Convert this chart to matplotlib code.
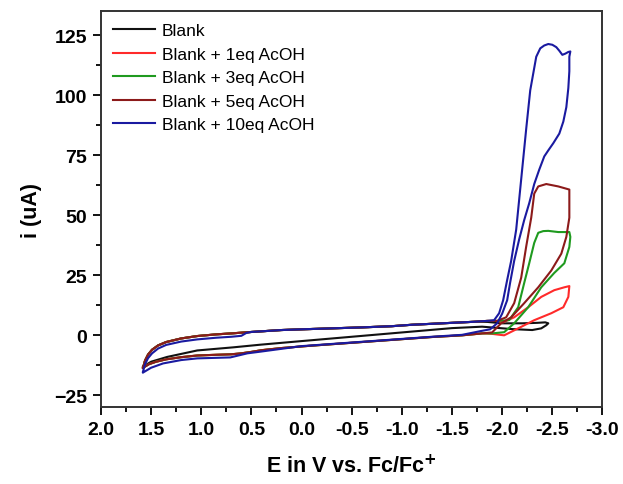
import matplotlib.pyplot as plt
from matplotlib.ticker import MultipleLocator

plt.rcParams['font.family'] = ['Liberation Sans', 'DejaVu Sans']

# shared low-current parts of the scans (E in V, i in uA)
fwd_base_v = [1.58, 1.56, 1.53, 1.49, 1.43, 1.35, 1.2, 1.04, 0.85, 0.7, 0.5, 0.2, 0.0,
              -0.3, -0.6, -0.9, -1.1, -1.3, -1.5, -1.7, -1.85]
fwd_base_i = [-13.5, -10.5, -8.0, -6.0, -4.2, -2.8, -1.3, -0.3, 0.4, 0.8, 1.4, 2.2, 2.5,
              2.9, 3.3, 3.8, 4.4, 4.8, 5.2, 5.6, 6.0]
rev_base_v = [-1.8, -1.6, -1.3, -1.0, -0.7, -0.4, -0.1, 0.2, 0.4, 0.5, 0.6, 0.7, 0.85,
              1.04, 1.2, 1.35, 1.45, 1.52, 1.56, 1.58]
rev_base_i = [0.8, 0.0, -0.7, -1.6, -2.5, -3.4, -4.3, -5.3, -6.2, -6.9, -7.5, -7.9, -8.1,
              -8.4, -9.1, -10.0, -11.0, -12.0, -13.0, -13.5]

# blue baseline sits a little lower
blue_fwd_v = [1.58, 1.56, 1.53, 1.49, 1.43, 1.35, 1.2, 1.04, 0.85, 0.7, 0.6, 0.55, 0.5, 0.2, 0.0,
              -0.3, -0.6, -0.9, -1.1, -1.3, -1.5, -1.7, -1.85]
blue_fwd_i = [-15.0, -12.0, -9.5, -7.5, -5.5, -4.0, -2.6, -1.7, -1.0, -0.6, -0.2, 1.0, 1.4, 2.2, 2.5,
              2.9, 3.3, 3.8, 4.4, 4.8, 5.2, 5.6, 6.0]
blue_rev_v = [-1.79, -1.6, -1.3, -1.0, -0.5, 0.0, 0.41, 0.54, 0.71, 1.04, 1.2, 1.38, 1.5, 1.58]
blue_rev_i = [1.8, 0.2, -0.6, -1.5, -3.0, -4.5, -6.8, -7.5, -9.2, -9.6, -10.3, -11.7, -13.5, -15.5]

# black: narrow loop, forward under the coloured ones
blank_v = fwd_base_v + [-2.0, -2.2, -2.35, -2.43, -2.46, -2.44, -2.39, -2.3, -2.1, -1.8,
                        -1.5, -1.0, -0.5, 0.0, 0.41, 0.68, 1.04, 1.34, 1.5, 1.58]
blank_i = fwd_base_i[:-1] + [5.6, 5.0, 5.0, 5.2, 5.4, 5.0, 4.2, 2.9, 2.2, 2.6, 3.6,
                             3.0, 1.2, -0.6, -2.4, -3.9, -5.0, -6.3, -9.0, -11.0, -13.0]

# catalytic waves: forward up, reverse down
red_cat_v = [-1.95, -2.01, -2.12, -2.26, -2.39, -2.52, -2.62, -2.67, -2.66, -2.61, -2.49,
             -2.32, -2.16, -2.02, -1.9]
red_cat_i = [6.0, 5.4, 7.5, 11.7, 16.0, 18.8, 20.0, 20.5, 16.0, 11.7, 9.2, 6.3, 2.9, 0.0, 0.6]

green_cat_v = [-1.95, -2.07, -2.16, -2.22, -2.27, -2.32, -2.36, -2.41, -2.46, -2.56, -2.67, -2.68,
               -2.67, -2.62, -2.52, -2.39, -2.26, -2.12, -2.02, -1.9]
green_cat_i = [6.0, 6.3, 11.7, 21.8, 30.0, 38.5, 42.7, 43.4, 43.5, 43.0, 43.0, 41.0,
               36.8, 30.0, 26.0, 20.0, 11.7, 5.0, 1.3, 0.8]

maroon_cat_v = [-1.95, -2.04, -2.12, -2.19, -2.24, -2.29, -2.32, -2.36, -2.44, -2.56, -2.67,
                -2.67, -2.67, -2.64, -2.59, -2.49, -2.36, -2.22, -2.09, -1.99, -1.9]
maroon_cat_i = [6.0, 7.5, 13.4, 24.0, 37.0, 49.0, 59.0, 62.0, 63.0, 62.0, 60.7,
                58.0, 49.0, 41.0, 34.0, 27.0, 20.0, 13.4, 7.5, 5.0, 1.2]

blue_cat_v = [-1.92, -1.97, -2.01, -2.05, -2.09, -2.14, -2.19, -2.24, -2.28, -2.31, -2.34, -2.38,
              -2.42, -2.46, -2.5, -2.54, -2.57, -2.6, -2.63, -2.66, -2.68,
              -2.67, -2.67, -2.66, -2.64, -2.61, -2.57, -2.51, -2.46, -2.42, -2.37, -2.32,
              -2.27, -2.22, -2.17, -2.12, -2.08, -2.05, -2.0, -1.95, -1.88]
blue_cat_i = [6.3, 9.2, 14.6, 23.0, 31.0, 44.0, 65.0, 86.0, 102.0, 109.0, 116.0, 119.5,
              120.7, 121.3, 121.0, 120.0, 118.5, 116.8, 117.3, 118.0, 118.2,
              116.0, 110.0, 103.0, 95.0, 89.0, 84.0, 80.0, 77.0, 74.5, 69.0, 63.0,
              55.0, 48.0, 40.0, 31.0, 22.0, 14.6, 9.0, 5.0, 2.5]

labels = ['Blank', 'Blank + 1eq AcOH', 'Blank + 3eq AcOH', 'Blank + 5eq AcOH', 'Blank + 10eq AcOH']
colors = ['#111111', '#ff2a2a', '#1f9a1f', '#8c1a1a', '#1a1aa0']

fig = plt.figure(figsize=(6.23, 4.85), dpi=100)
ax = fig.add_axes([0.162, 0.158, 0.805, 0.817])

lw = 1.5
ax.plot(blank_v, blank_i, color=colors[0], lw=lw, label=labels[0])
ax.plot(fwd_base_v + red_cat_v + rev_base_v, fwd_base_i + red_cat_i + rev_base_i,
        color=colors[1], lw=lw, label=labels[1])
ax.plot(fwd_base_v + green_cat_v + rev_base_v, fwd_base_i + green_cat_i + rev_base_i,
        color=colors[2], lw=lw, label=labels[2])
ax.plot(fwd_base_v + maroon_cat_v + rev_base_v, fwd_base_i + maroon_cat_i + rev_base_i,
        color=colors[3], lw=lw, label=labels[3])
ax.plot(blue_fwd_v + blue_cat_v + blue_rev_v, blue_fwd_i + blue_cat_i + blue_rev_i,
        color=colors[4], lw=lw, label=labels[4])

ax.set_xlim(2.0, -3.0)
ax.set_ylim(-30, 135)
ax.xaxis.set_major_locator(MultipleLocator(0.5))
ax.xaxis.set_minor_locator(MultipleLocator(0.25))
ax.yaxis.set_major_locator(MultipleLocator(25))
ax.yaxis.set_minor_locator(MultipleLocator(12.5))
ax.xaxis.set_major_formatter(plt.FuncFormatter(lambda v, p: f"{v:.1f}"))
ax.tick_params(which='major', direction='out', length=6, width=1.3, labelsize=14, pad=4)
ax.tick_params(which='minor', direction='out', length=3.5, width=1.3)
for lab in ax.get_xticklabels() + ax.get_yticklabels():
    lab.set_fontweight('bold')
for sp in ax.spines.values():
    sp.set_linewidth(1.4)
    sp.set_color('#333333')

ax.set_xlabel("E in V vs. Fc/Fc$^{\\mathbf{+}}$", fontsize=15.5, fontweight='bold', labelpad=11)
ax.set_ylabel("i (uA)", fontsize=15.5, fontweight='bold', labelpad=9)

ax.legend(loc='upper left', frameon=False, fontsize=12.5, handlelength=2.4,
          handletextpad=0.4, labelspacing=0.48, borderaxespad=0.15, borderpad=0.55)

fig.savefig("out.png", dpi=100)
